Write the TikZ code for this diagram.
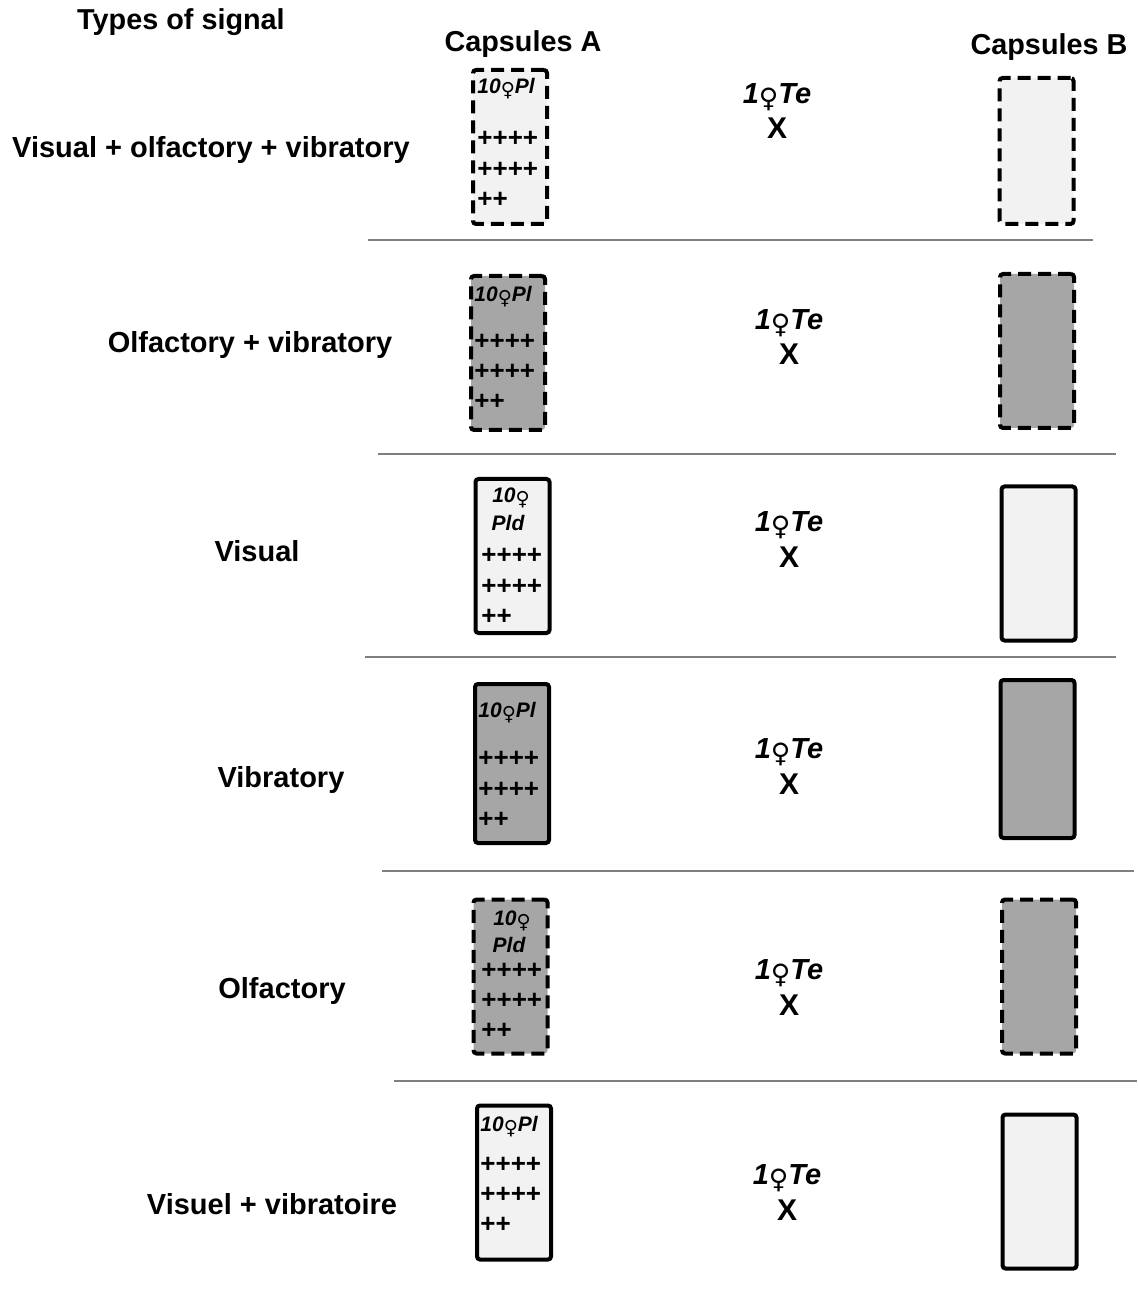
\documentclass[tikz,border=0pt]{standalone}
\usepackage{fontspec}
\setmainfont{Liberation Sans}
\newfontfamily\symfont{DejaVu Sans}
\usetikzlibrary{positioning}
\definecolor{capPale}{HTML}{F2F2F2}
\definecolor{capDark}{HTML}{A6A6A6}
\definecolor{sepGray}{HTML}{7F7F7F}
\newcommand{\femsym}{\raisebox{-0.14em}{\symfont\mdseries\upshape\scalebox{0.92}{♀}}}

\begin{document}
\begin{tikzpicture}[x=0.5pt, y=-0.5pt,
    head/.style={font=\bfseries\fontsize{14.4}{17}\selectfont, inner sep=0pt, yshift=-1.25pt},
    sig/.style={font=\bfseries\fontsize{14.5}{17}\selectfont, inner sep=0pt, yshift=-1.25pt},
    capsule/.style={draw, line width=2pt, rounded corners=1.5pt, inner sep=0pt,
        minimum width=37pt, minimum height=77pt},
    dashcap/.style={dash pattern=on 6.5pt off 3.5pt},
    pale/.style={fill=capPale}, dark/.style={fill=capDark},
    fem/.style={font=\bfseries\itshape\fontsize{10.5}{12}\selectfont, inner sep=0pt, yshift=-1pt},
    plus/.style={font=\bfseries\fontsize{13}{15}\selectfont, inner sep=0pt, anchor=west, yshift=-1.25pt},
    tele/.style={font=\bfseries\itshape\fontsize{14.5}{17}\selectfont, inner sep=0pt, yshift=-1pt},
    cross/.style={font=\bfseries\fontsize{15}{17}\selectfont, inner sep=0pt},
    sep/.style={draw=sepGray, line width=1pt}]
    \useasboundingbox (0,0) rectangle (1138,1293);

    % headings
    \node[head] (types) at (181,20) {Types of signal};
    \node[head] (capA) at (523,42) {Capsules A};
    \node[head] (capB) at (1049,45) {Capsules B};

    % visual + olfactory + vibratory
    \node[sig] (s1) at (211,148) {Visual + olfactory + vibratory};
    \node[capsule, pale, dashcap] (a1) at (510,147) {};
    \node[fem, anchor=west] (a1t) at (477,87) {10\femsym Pl};
    \node[plus] (a1p) at (477,136) {++++};
    \node[plus] (a1q) at (477,167) {++++};
    \node[plus] (a1r) at (477,197) {++};
    \node[tele] (m1) at (777,95) {1\femsym Te};
    \node[cross] (x1) at (777,128) {X};
    \node[capsule, pale, dashcap, minimum height=73pt] (b1) at (1036.5,151) {};
    \draw[sep] (368,240) -- (1093,240);

    % olfactory + vibratory
    \node[sig] (s2) at (250,343) {Olfactory + vibratory};
    \node[capsule, dark, dashcap] (a2) at (508,353) {};
    \node[fem, anchor=west] (a2t) at (474,295) {10\femsym Pl};
    \node[plus] (a2p) at (474,339) {++++};
    \node[plus] (a2q) at (474,369) {++++};
    \node[plus] (a2r) at (474,399) {++};
    \node[tele] (m2) at (789,321) {1\femsym Te};
    \node[cross] (x2) at (789,354) {X};
    \node[capsule, dark, dashcap] (b2) at (1037,351) {};
    \draw[sep] (378,454) -- (1116,454);

    % visual
    \node[sig] (s3) at (257,549) {Visual};
    \node[capsule, pale] (a3) at (512.5,556) {};
    \node[fem] (a3t) at (511,496) {10\femsym};
    \node[fem] (a3u) at (508,521) {Pld};
    \node[plus] (a3p) at (481,553) {++++};
    \node[plus] (a3q) at (481,584) {++++};
    \node[plus] (a3r) at (481,614) {++};
    \node[tele] (m3) at (789,523) {1\femsym Te};
    \node[cross] (x3) at (789,557) {X};
    \node[capsule, pale] (b3) at (1038.5,563.5) {};
    \draw[sep] (365,657) -- (1116,657);

    % vibratory
    \node[sig] (s4) at (281,777) {Vibratory};
    \node[capsule, dark, minimum height=79.5pt] (a4) at (512,763.5) {};
    \node[fem, anchor=west] (a4t) at (478,711) {10\femsym Pl};
    \node[plus] (a4p) at (478,756) {++++};
    \node[plus] (a4q) at (478,787) {++++};
    \node[plus] (a4r) at (478,817) {++};
    \node[tele] (m4) at (789,750) {1\femsym Te};
    \node[cross] (x4) at (789,784) {X};
    \node[capsule, dark, minimum height=79pt] (b4) at (1037.5,759) {};
    \draw[sep] (382,871) -- (1134,871);

    % olfactory
    \node[sig] (s5) at (282,988) {Olfactory};
    \node[capsule, dark, dashcap] (a5) at (510.5,976.5) {};
    \node[fem] (a5t) at (512,919) {10\femsym};
    \node[fem] (a5u) at (509,943) {Pld};
    \node[plus] (a5p) at (481,968) {++++};
    \node[plus] (a5q) at (481,998) {++++};
    \node[plus] (a5r) at (481,1028) {++};
    \node[tele] (m5) at (789,971) {1\femsym Te};
    \node[cross] (x5) at (789,1005) {X};
    \node[capsule, dark, dashcap] (b5) at (1039,976.5) {};
    \draw[sep] (394,1081) -- (1137,1081);

    % visuel + vibratoire
    \node[sig] (s6) at (272,1202) {Visuel + vibratoire};
    \node[capsule, pale] (a6) at (514,1182.5) {};
    \node[fem, anchor=west] (a6t) at (480,1125) {10\femsym Pl};
    \node[plus] (a6p) at (480,1162) {++++};
    \node[plus] (a6q) at (480,1192) {++++};
    \node[plus] (a6r) at (480,1222) {++};
    \node[tele] (m6) at (787,1176) {1\femsym Te};
    \node[cross] (x6) at (787,1210) {X};
    \node[capsule, pale] (b6) at (1039.5,1191.5) {};
\end{tikzpicture}
\end{document}
